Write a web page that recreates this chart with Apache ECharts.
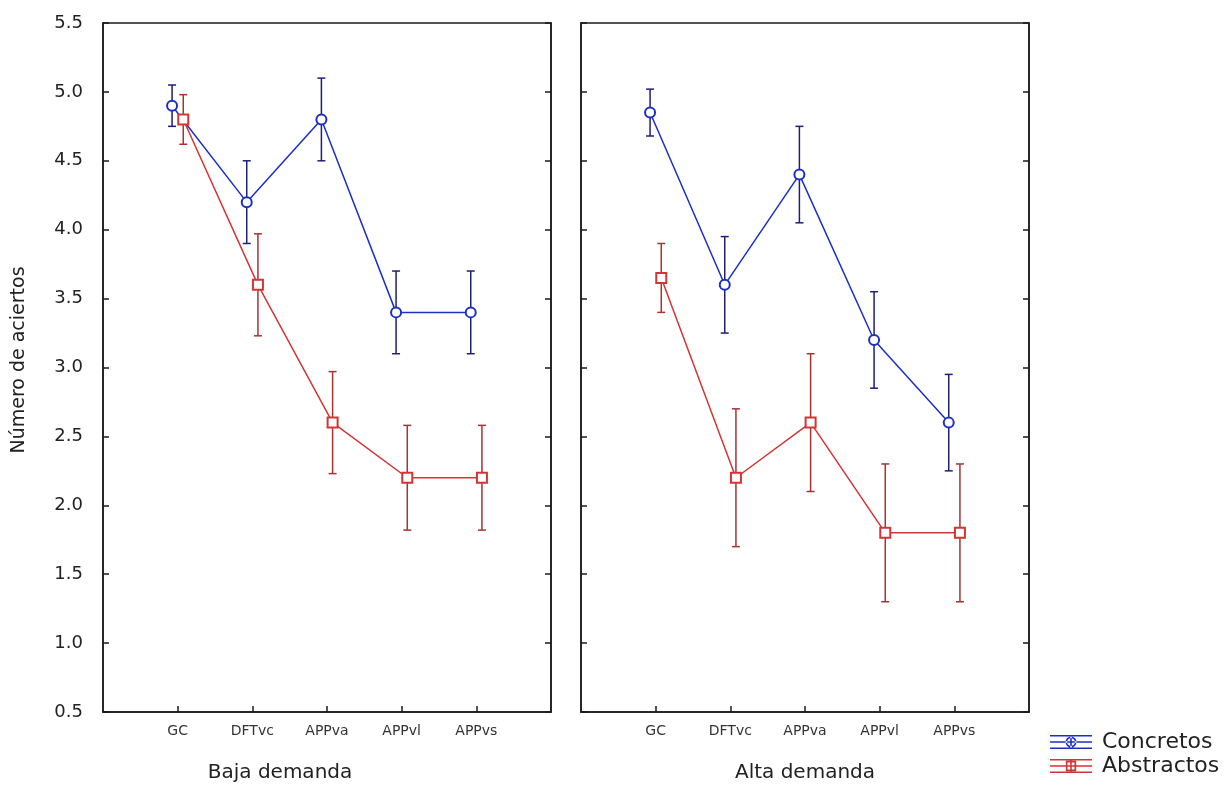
<!DOCTYPE html>
<html>
<head>
<meta charset="utf-8">
<script src="https://cdn.jsdelivr.net/npm/echarts@6/dist/echarts.min.js"></script>
<style>
html,body{margin:0;padding:0;background:#fff;}
#chart{width:1231px;height:785px;}
</style>
</head>
<body>
<div id="chart"></div>
<script>
const categories = ['GC', 'DFTvc', 'APPva', 'APPvl', 'APPvs'];
const panelTitles = ['Baja demanda', 'Alta demanda'];
const seriesNames = ['Concretos', 'Abstractos'];
const yTicks = [0.5, 1.0, 1.5, 2.0, 2.5, 3.0, 3.5, 4.0, 4.5, 5.0, 5.5];

const bajaConcretos = [4.9, 4.2, 4.8, 3.4, 3.4];
const bajaConcretosErr = [0.15, 0.3, 0.3, 0.3, 0.3];
const bajaAbstractos = [4.8, 3.6, 2.6, 2.2, 2.2];
const bajaAbstractosErr = [0.18, 0.37, 0.37, 0.38, 0.38];
const altaConcretos = [4.85, 3.6, 4.4, 3.2, 2.6];
const altaConcretosErr = [0.17, 0.35, 0.35, 0.35, 0.35];
const altaAbstractos = [3.65, 2.2, 2.6, 1.8, 1.8];
const altaAbstractosErr = [0.25, 0.5, 0.5, 0.5, 0.5];

const BLUE = '#1c2fc4', BLUE_ERR = '#1e1e78';
const RED = '#d23535', RED_ERR = '#a83232';
const FONT = 'DejaVu Sans';
const AX = '#1a1a1a';
const offsets = [-0.075, 0.075];

const chart = echarts.init(document.getElementById('chart'), null, {renderer: 'canvas'});

const grids = [
  {left: 103, top: 23, width: 448, height: 689, show: true, borderColor: AX, borderWidth: 1.5, backgroundColor: 'transparent'},
  {left: 581, top: 23, width: 448, height: 689, show: true, borderColor: AX, borderWidth: 1.5, backgroundColor: 'transparent'}
];

const ticks = categories.map((c, i) => i + 1);
const xAxes = grids.map((g, gi) => ({
  type: 'value', gridIndex: gi, min: 0, max: 6,
  axisLine: {show: true, lineStyle: {color: AX, width: 1.5}},
  axisTick: {show: true, inside: true, length: 6, customValues: ticks, lineStyle: {color: AX, width: 1.5}},
  axisLabel: {show: true, customValues: ticks, margin: 12, color: '#333', fontFamily: FONT, fontSize: 14,
    formatter: v => categories[Math.round(v) - 1] || ''},
  splitLine: {show: false}
}));

const yAxes = [];
grids.forEach((g, gi) => {
  ['left', 'right'].forEach(pos => {
    yAxes.push({
      type: 'value', gridIndex: gi, position: pos, min: yTicks[0], max: yTicks[yTicks.length - 1], interval: 0.5,
      axisLine: {show: true, lineStyle: {color: AX, width: 1.5}},
      axisTick: {show: true, inside: true, length: 6, lineStyle: {color: AX, width: 1.5}},
      axisLabel: {show: gi === 0 && pos === 'left', margin: 20, color: '#222', fontFamily: FONT, fontSize: 18,
        formatter: v => v.toFixed(1)},
      splitLine: {show: false}
    });
  });
});

const panels = [
  [[bajaConcretos, bajaConcretosErr], [bajaAbstractos, bajaAbstractosErr]],
  [[altaConcretos, altaConcretosErr], [altaAbstractos, altaAbstractosErr]]
];
const lineColors = [BLUE, RED];
const errColors = [BLUE_ERR, RED_ERR];
const symbols = ['emptyCircle', 'emptyRect'];
const symbolSizes = [10, 10];

function errRender(color) {
  return function (params, api) {
    const x = api.value(0), lo = api.value(1), hi = api.value(2);
    const pt = api.coord([x, hi]), pb = api.coord([x, lo]);
    const w = 4;
    const st = {stroke: color, lineWidth: 1.5};
    return {
      type: 'group',
      children: [
        {type: 'line', shape: {x1: pt[0], y1: pt[1], x2: pb[0], y2: pb[1]}, style: st},
        {type: 'line', shape: {x1: pt[0] - w, y1: pt[1], x2: pt[0] + w, y2: pt[1]}, style: st},
        {type: 'line', shape: {x1: pb[0] - w, y1: pb[1], x2: pb[0] + w, y2: pb[1]}, style: st}
      ]
    };
  };
}

const series = [];
panels.forEach((panel, pi) => {
  panel.forEach(([vals, errs], si) => {
    const xs = vals.map((v, i) => i + 1 + offsets[si]);
    series.push({
      type: 'custom', name: seriesNames[si], xAxisIndex: pi, yAxisIndex: pi * 2, z: 2,
      renderItem: errRender(errColors[si]),
      encode: {x: 0, y: [1, 2]},
      data: vals.map((v, i) => [xs[i], v - errs[i], v + errs[i]]),
      silent: true
    });
    series.push({
      type: 'line', name: seriesNames[si], xAxisIndex: pi, yAxisIndex: pi * 2, z: 3,
      data: vals.map((v, i) => [xs[i], v]),
      symbol: symbols[si], symbolSize: symbolSizes[si],
      lineStyle: {color: lineColors[si], width: 1.5},
      itemStyle: {color: lineColors[si], borderColor: lineColors[si], borderWidth: 1.6},
      emphasis: {disabled: true},
      animation: false
    });
  });
});

const circleIcon = 'path://M0 0h42v1.6h-42z M0 12.4h42v1.6h-42z M0 6.2h42v1.6h-42z M20.2 0h1.6v14h-1.6z ' +
  'M26.5 7a5.5 5.5 0 1 0 -11 0a5.5 5.5 0 1 0 11 0z M24.8 7a3.8 3.8 0 1 1 -7.6 0a3.8 3.8 0 1 1 7.6 0z';
const rectIcon = 'path://M0 0h42v1.6h-42z M0 12.4h42v1.6h-42z M0 6.2h42v1.6h-42z M20.2 0h1.6v14h-1.6z ' +
  'M15.8 1.8h10.4v10.4h-10.4z M17.5 3.5v7h7v-7z';

const option = {
  backgroundColor: '#fff',
  animation: false,
  grid: grids,
  xAxis: xAxes,
  yAxis: yAxes,
  legend: {
    orient: 'vertical', left: 1050, top: 731, height: 80, padding: 0,
    itemWidth: 42, itemHeight: 14, itemGap: 2,
    selectedMode: false,
    textStyle: {fontFamily: FONT, fontSize: 22, color: '#222', padding: [0, 0, 0, 5]},
    data: [
      {name: seriesNames[0], icon: circleIcon, itemStyle: {color: BLUE, borderWidth: 0}},
      {name: seriesNames[1], icon: rectIcon, itemStyle: {color: RED, borderWidth: 0}}
    ]
  },
  graphic: [
    {type: 'text', x: 280, y: 773, style: {text: panelTitles[0], fontFamily: FONT, fontSize: 20, fill: '#222', align: 'center', verticalAlign: 'middle'}},
    {type: 'text', x: 805, y: 773, style: {text: panelTitles[1], fontFamily: FONT, fontSize: 20, fill: '#222', align: 'center', verticalAlign: 'middle'}},
    {type: 'text', x: 19, y: 360, rotation: Math.PI / 2, style: {text: 'Número de aciertos', fontFamily: FONT, fontSize: 19, fill: '#222', align: 'center', verticalAlign: 'middle'}}
  ],
  series: series
};
chart.setOption(option);
</script>
</body>
</html>
